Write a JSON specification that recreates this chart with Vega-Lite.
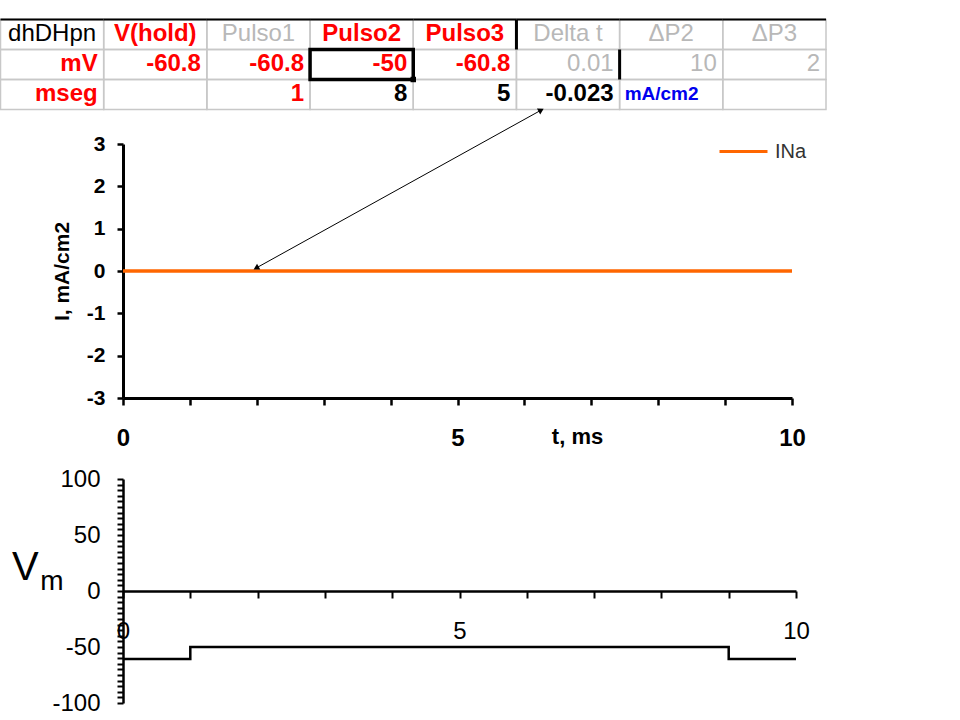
{
  "$schema": "https://vega.github.io/schema/vega-lite/v6.json",
  "width": 960,
  "height": 720,
  "autosize": {"type": "none"},
  "padding": 0,
  "background": "white",
  "config": {
    "view": {"stroke": null},
    "font": "Liberation Sans",
    "axis": {"grid": false, "labelFont": "Liberation Sans", "titleFont": "Liberation Sans", "domainColor": "#000000", "tickColor": "#000000", "labelColor": "#000000", "titleColor": "#000000", "labelFlush": false, "labelOverlap": false}
  },
  "datasets": {
    "sheet": [
      {"row": "header", "col": "dhDHpn", "text": "dhDHpn", "role": "name"},
      {"row": "header", "col": "V(hold)", "text": "V(hold)", "role": "active"},
      {"row": "header", "col": "Pulso1", "text": "Pulso1", "role": "inactive"},
      {"row": "header", "col": "Pulso2", "text": "Pulso2", "role": "active"},
      {"row": "header", "col": "Pulso3", "text": "Pulso3", "role": "active"},
      {"row": "header", "col": "Delta t", "text": "Delta t", "role": "inactive"},
      {"row": "header", "col": "ΔP2", "text": "ΔP2", "role": "inactive"},
      {"row": "header", "col": "ΔP3", "text": "ΔP3", "role": "inactive"},
      {"row": "mV", "col": "dhDHpn", "text": "mV", "role": "active"},
      {"row": "mV", "col": "V(hold)", "text": "-60.8", "role": "active"},
      {"row": "mV", "col": "Pulso1", "text": "-60.8", "role": "active"},
      {"row": "mV", "col": "Pulso2", "text": "-50", "role": "active"},
      {"row": "mV", "col": "Pulso3", "text": "-60.8", "role": "active"},
      {"row": "mV", "col": "Delta t", "text": "0.01", "role": "inactive"},
      {"row": "mV", "col": "ΔP2", "text": "10", "role": "inactive"},
      {"row": "mV", "col": "ΔP3", "text": "2", "role": "inactive"},
      {"row": "mseg", "col": "dhDHpn", "text": "mseg", "role": "active"},
      {"row": "mseg", "col": "V(hold)", "text": "", "role": "blank"},
      {"row": "mseg", "col": "Pulso1", "text": "1", "role": "active"},
      {"row": "mseg", "col": "Pulso2", "text": "8", "role": "result"},
      {"row": "mseg", "col": "Pulso3", "text": "5", "role": "result"},
      {"row": "mseg", "col": "Delta t", "text": "-0.023", "role": "result"},
      {"row": "mseg", "col": "ΔP2", "text": "mA/cm2", "role": "unit"},
      {"row": "mseg", "col": "ΔP3", "text": "", "role": "blank"}
    ],
    "borders": [
      {"col": "Delta t", "row": "header"},
      {"col": "ΔP2", "row": "mV"}
    ],
    "selection": [
      {"col": "Pulso2", "row": "mV"}
    ],
    "ina": [
      {"t": 0, "I": 0, "series": "INa"},
      {"t": 1, "I": 0, "series": "INa"},
      {"t": 2, "I": 0, "series": "INa"},
      {"t": 3, "I": 0, "series": "INa"},
      {"t": 4, "I": 0, "series": "INa"},
      {"t": 5, "I": 0, "series": "INa"},
      {"t": 6, "I": 0, "series": "INa"},
      {"t": 7, "I": 0, "series": "INa"},
      {"t": 8, "I": 0, "series": "INa"},
      {"t": 9, "I": 0, "series": "INa"},
      {"t": 10, "I": 0, "series": "INa"}
    ],
    "arrow": [
      {"t": 6.25, "I": 3.8, "t_end": 1.99, "I_end": 0.07}
    ],
    "vm": [
      {"t": 0, "v": -60.8},
      {"t": 1, "v": -50},
      {"t": 9, "v": -60.8},
      {"t": 10, "v": -60.8}
    ],
    "vmLabel": [
      {"text": "V", "t": -1.65, "v": 9.8},
      {"text": "m", "t": -1.23, "v": 0.9}
    ]
  },
  "layer": [
    {
      "layer": [
        {
          "data": {"name": "sheet"},
          "mark": {"type": "rect", "filled": false, "stroke": "#C8C8C8", "strokeWidth": 1.5},
          "encoding": {
            "x": {"field": "col", "type": "nominal", "scale": {"type": "band", "domain": ["dhDHpn", "V(hold)", "Pulso1", "Pulso2", "Pulso3", "Delta t", "ΔP2", "ΔP3"], "range": [0.5, 826], "paddingInner": 0, "paddingOuter": 0}, "axis": null},
            "y": {"field": "row", "type": "nominal", "scale": {"type": "band", "domain": ["header", "mV", "mseg"], "range": [19.5, 109.5], "paddingInner": 0, "paddingOuter": 0}, "axis": null}
          }
        },
        {
          "data": {"name": "sheet"},
          "transform": [{"filter": "datum.row === 'header'"}],
          "mark": {"type": "rule", "stroke": "#000000", "strokeWidth": 2},
          "encoding": {
            "x": {"field": "col", "type": "nominal", "bandPosition": 0, "scale": {"type": "band", "domain": ["dhDHpn", "V(hold)", "Pulso1", "Pulso2", "Pulso3", "Delta t", "ΔP2", "ΔP3"], "range": [0.5, 826], "paddingInner": 0, "paddingOuter": 0}, "axis": null},
            "x2": {"field": "col", "bandPosition": 1},
            "y": {"field": "row", "type": "nominal", "bandPosition": 0, "scale": {"type": "band", "domain": ["header", "mV", "mseg"], "range": [19.5, 109.5], "paddingInner": 0, "paddingOuter": 0}, "axis": null}
          }
        },
        {
          "data": {"name": "borders"},
          "mark": {"type": "rule", "stroke": "#000000", "strokeWidth": 3},
          "encoding": {
            "x": {"field": "col", "type": "nominal", "bandPosition": 0, "scale": {"type": "band", "domain": ["dhDHpn", "V(hold)", "Pulso1", "Pulso2", "Pulso3", "Delta t", "ΔP2", "ΔP3"], "range": [0.5, 826], "paddingInner": 0, "paddingOuter": 0}, "axis": null},
            "y": {"field": "row", "type": "nominal", "bandPosition": 0, "scale": {"type": "band", "domain": ["header", "mV", "mseg"], "range": [19.5, 109.5], "paddingInner": 0, "paddingOuter": 0}, "axis": null},
            "y2": {"field": "row", "bandPosition": 1}
          }
        },
        {
          "data": {"name": "selection"},
          "mark": {"type": "rect", "filled": false, "stroke": "#000000", "strokeWidth": 3.5},
          "encoding": {
            "x": {"field": "col", "type": "nominal", "scale": {"type": "band", "domain": ["dhDHpn", "V(hold)", "Pulso1", "Pulso2", "Pulso3", "Delta t", "ΔP2", "ΔP3"], "range": [0.5, 826], "paddingInner": 0, "paddingOuter": 0}, "axis": null},
            "y": {"field": "row", "type": "nominal", "scale": {"type": "band", "domain": ["header", "mV", "mseg"], "range": [19.5, 109.5], "paddingInner": 0, "paddingOuter": 0}, "axis": null}
          }
        },
        {
          "data": {"name": "selection"},
          "mark": {"type": "point", "shape": "square", "filled": true, "color": "#000000", "opacity": 1, "size": 30},
          "encoding": {
            "x": {"field": "col", "type": "nominal", "bandPosition": 1, "scale": {"type": "band", "domain": ["dhDHpn", "V(hold)", "Pulso1", "Pulso2", "Pulso3", "Delta t", "ΔP2", "ΔP3"], "range": [0.5, 826], "paddingInner": 0, "paddingOuter": 0}, "axis": null},
            "y": {"field": "row", "type": "nominal", "bandPosition": 1, "scale": {"type": "band", "domain": ["header", "mV", "mseg"], "range": [19.5, 109.5], "paddingInner": 0, "paddingOuter": 0}, "axis": null}
          }
        },
        {
          "data": {"name": "sheet"},
          "transform": [{"filter": "datum.row === 'header' && datum.role === 'active'"}],
          "mark": {"type": "text", "font": "Liberation Sans", "fontSize": 24, "fontWeight": "bold", "align": "center", "baseline": "middle", "dy": -1},
          "encoding": {
            "x": {"field": "col", "type": "nominal", "bandPosition": 0.5, "scale": {"type": "band", "domain": ["dhDHpn", "V(hold)", "Pulso1", "Pulso2", "Pulso3", "Delta t", "ΔP2", "ΔP3"], "range": [0.5, 826], "paddingInner": 0, "paddingOuter": 0}, "axis": null},
            "y": {"field": "row", "type": "nominal", "bandPosition": 0.5, "scale": {"type": "band", "domain": ["header", "mV", "mseg"], "range": [19.5, 109.5], "paddingInner": 0, "paddingOuter": 0}, "axis": null},
            "text": {"field": "text"},
            "color": {"field": "role", "type": "nominal", "scale": {"domain": ["name", "active", "inactive", "result", "unit"], "range": ["#000000", "#FF0000", "#B8B8B8", "#000000", "#0000EE"]}, "legend": null}
          }
        },
        {
          "data": {"name": "sheet"},
          "transform": [{"filter": "datum.row === 'header' && (datum.role === 'name' || datum.role === 'inactive')"}],
          "mark": {"type": "text", "font": "Liberation Sans", "fontSize": 24, "fontWeight": "normal", "align": "center", "baseline": "middle", "dy": -1},
          "encoding": {
            "x": {"field": "col", "type": "nominal", "bandPosition": 0.5, "scale": {"type": "band", "domain": ["dhDHpn", "V(hold)", "Pulso1", "Pulso2", "Pulso3", "Delta t", "ΔP2", "ΔP3"], "range": [0.5, 826], "paddingInner": 0, "paddingOuter": 0}, "axis": null},
            "y": {"field": "row", "type": "nominal", "bandPosition": 0.5, "scale": {"type": "band", "domain": ["header", "mV", "mseg"], "range": [19.5, 109.5], "paddingInner": 0, "paddingOuter": 0}, "axis": null},
            "text": {"field": "text"},
            "color": {"field": "role", "type": "nominal", "scale": {"domain": ["name", "active", "inactive", "result", "unit"], "range": ["#000000", "#FF0000", "#B8B8B8", "#000000", "#0000EE"]}, "legend": null}
          }
        },
        {
          "data": {"name": "sheet"},
          "transform": [{"filter": "datum.row !== 'header' && (datum.role === 'active' || datum.role === 'result')"}],
          "mark": {"type": "text", "font": "Liberation Sans", "fontSize": 24, "fontWeight": "bold", "align": "right", "baseline": "middle", "dx": -6, "dy": -1},
          "encoding": {
            "x": {"field": "col", "type": "nominal", "bandPosition": 1, "scale": {"type": "band", "domain": ["dhDHpn", "V(hold)", "Pulso1", "Pulso2", "Pulso3", "Delta t", "ΔP2", "ΔP3"], "range": [0.5, 826], "paddingInner": 0, "paddingOuter": 0}, "axis": null},
            "y": {"field": "row", "type": "nominal", "bandPosition": 0.5, "scale": {"type": "band", "domain": ["header", "mV", "mseg"], "range": [19.5, 109.5], "paddingInner": 0, "paddingOuter": 0}, "axis": null},
            "text": {"field": "text"},
            "color": {"field": "role", "type": "nominal", "scale": {"domain": ["name", "active", "inactive", "result", "unit"], "range": ["#000000", "#FF0000", "#B8B8B8", "#000000", "#0000EE"]}, "legend": null}
          }
        },
        {
          "data": {"name": "sheet"},
          "transform": [{"filter": "datum.row !== 'header' && datum.role === 'inactive'"}],
          "mark": {"type": "text", "font": "Liberation Sans", "fontSize": 24, "fontWeight": "normal", "align": "right", "baseline": "middle", "dx": -6, "dy": -1},
          "encoding": {
            "x": {"field": "col", "type": "nominal", "bandPosition": 1, "scale": {"type": "band", "domain": ["dhDHpn", "V(hold)", "Pulso1", "Pulso2", "Pulso3", "Delta t", "ΔP2", "ΔP3"], "range": [0.5, 826], "paddingInner": 0, "paddingOuter": 0}, "axis": null},
            "y": {"field": "row", "type": "nominal", "bandPosition": 0.5, "scale": {"type": "band", "domain": ["header", "mV", "mseg"], "range": [19.5, 109.5], "paddingInner": 0, "paddingOuter": 0}, "axis": null},
            "text": {"field": "text"},
            "color": {"field": "role", "type": "nominal", "scale": {"domain": ["name", "active", "inactive", "result", "unit"], "range": ["#000000", "#FF0000", "#B8B8B8", "#000000", "#0000EE"]}, "legend": null}
          }
        },
        {
          "data": {"name": "sheet"},
          "transform": [{"filter": "datum.role === 'unit'"}],
          "mark": {"type": "text", "font": "Liberation Sans", "fontSize": 19, "fontWeight": "bold", "align": "left", "baseline": "middle", "dx": 5, "dy": -1},
          "encoding": {
            "x": {"field": "col", "type": "nominal", "bandPosition": 0, "scale": {"type": "band", "domain": ["dhDHpn", "V(hold)", "Pulso1", "Pulso2", "Pulso3", "Delta t", "ΔP2", "ΔP3"], "range": [0.5, 826], "paddingInner": 0, "paddingOuter": 0}, "axis": null},
            "y": {"field": "row", "type": "nominal", "bandPosition": 0.5, "scale": {"type": "band", "domain": ["header", "mV", "mseg"], "range": [19.5, 109.5], "paddingInner": 0, "paddingOuter": 0}, "axis": null},
            "text": {"field": "text"},
            "color": {"field": "role", "type": "nominal", "scale": {"domain": ["name", "active", "inactive", "result", "unit"], "range": ["#000000", "#FF0000", "#B8B8B8", "#000000", "#0000EE"]}, "legend": null}
          }
        }
      ]
    },
    {
      "encoding": {
        "x": {"field": "t", "type": "quantitative", "scale": {"domain": [0, 10], "range": [123, 792], "nice": false, "zero": false},
          "axis": {"orient": "bottom", "offset": -322, "values": [0, 1, 2, 3, 4, 5, 6, 7, 8, 9, 10], "labelExpr": "datum.value % 5 === 0 ? toString(datum.value) : ''", "domainWidth": 3, "tickWidth": 2.5, "tickSize": 7, "labelFontSize": 24, "labelFontWeight": "bold", "labelPadding": 21, "title": "t, ms", "titleFontSize": 22, "titleFontWeight": "bold", "titleX": 577, "titleY": 45, "titleBaseline": "alphabetic", "titleAlign": "center"}},
        "y": {"field": "I", "type": "quantitative", "scale": {"domain": [-3, 3], "range": [398, 144], "nice": false, "zero": false},
          "axis": {"orient": "left", "offset": -123, "values": [-3, -2, -1, 0, 1, 2, 3], "labelExpr": "toString(datum.value)", "domainWidth": 3, "tickWidth": 2.5, "tickSize": 6, "labelFontSize": 21, "labelFontWeight": "bold", "labelPadding": 12, "title": "I, mA/cm2", "titleFontSize": 21, "titleFontWeight": "bold", "titlePadding": 14}}
      },
      "layer": [
        {
          "data": {"name": "ina"},
          "mark": {"type": "line", "strokeWidth": 3.5},
          "encoding": {
            "color": {"field": "series", "type": "nominal", "scale": {"domain": ["INa"], "range": ["#FF6600"]},
              "legend": {"orient": "none", "legendX": 718, "legendY": 126, "title": null, "symbolType": "stroke", "symbolSize": 2304, "symbolStrokeWidth": 3, "labelFont": "Liberation Sans", "labelFontSize": 20, "labelColor": "#333333", "labelOffset": 6, "padding": 0}}
          }
        },
        {
          "data": {"name": "arrow"},
          "mark": {"type": "rule", "stroke": "#000000", "strokeWidth": 1},
          "encoding": {
            "x2": {"field": "t_end"},
            "y2": {"field": "I_end"}
          }
        },
        {
          "data": {"name": "arrow"},
          "mark": {"type": "point", "shape": "triangle-up", "filled": true, "color": "#000000", "opacity": 1, "size": 45, "angle": 61},
          "encoding": {}
        },
        {
          "data": {"name": "arrow"},
          "mark": {"type": "point", "shape": "triangle-up", "filled": true, "color": "#000000", "opacity": 1, "size": 45, "angle": 241},
          "encoding": {
            "x": {"field": "t_end", "type": "quantitative", "title": "t, ms"},
            "y": {"field": "I_end", "type": "quantitative", "title": "I, mA/cm2"}
          }
        }
      ]
    },
    {
      "encoding": {
        "x": {"field": "t", "type": "quantitative", "scale": {"domain": [0, 10], "range": [123, 796], "nice": false, "zero": false},
          "axis": {"orient": "bottom", "offset": -129, "values": [0, 1, 2, 3, 4, 5, 6, 7, 8, 9, 10], "labelExpr": "datum.value % 5 === 0 ? toString(datum.value) : ''", "domainWidth": 2.5, "tickWidth": 2, "tickSize": 7, "labelFontSize": 24, "labelFontWeight": "normal", "labelPadding": 21, "title": null}},
        "y": {"field": "v", "type": "quantitative", "scale": {"domain": [-100, 100], "range": [703, 479], "nice": false, "zero": false},
          "axis": {"orient": "left", "offset": -123, "values": [-100, -95, -90, -85, -80, -75, -70, -65, -60, -55, -50, -45, -40, -35, -30, -25, -20, -15, -10, -5, 0, 5, 10, 15, 20, 25, 30, 35, 40, 45, 50, 55, 60, 65, 70, 75, 80, 85, 90, 95, 100], "labelExpr": "datum.value % 50 === 0 ? toString(datum.value) : ''", "domainWidth": 2.5, "tickWidth": 2, "tickSize": 6, "labelFontSize": 24, "labelFontWeight": "normal", "labelPadding": 17, "title": null}}
      },
      "layer": [
        {
          "data": {"name": "vm"},
          "mark": {"type": "line", "interpolate": "step-after", "stroke": "#000000", "strokeWidth": 2.5}
        },
        {
          "data": {"name": "vmLabel"},
          "transform": [{"filter": "datum.text === 'V'"}],
          "mark": {"type": "text", "font": "Liberation Sans", "fontSize": 40, "align": "left", "baseline": "alphabetic", "color": "#000000"},
          "encoding": {"text": {"field": "text"}}
        },
        {
          "data": {"name": "vmLabel"},
          "transform": [{"filter": "datum.text === 'm'"}],
          "mark": {"type": "text", "font": "Liberation Sans", "fontSize": 28, "align": "left", "baseline": "alphabetic", "color": "#000000"},
          "encoding": {"text": {"field": "text"}}
        }
      ]
    }
  ],
  "resolve": {
    "scale": {"x": "independent", "y": "independent", "color": "independent"},
    "axis": {"x": "independent", "y": "independent"}
  }
}
